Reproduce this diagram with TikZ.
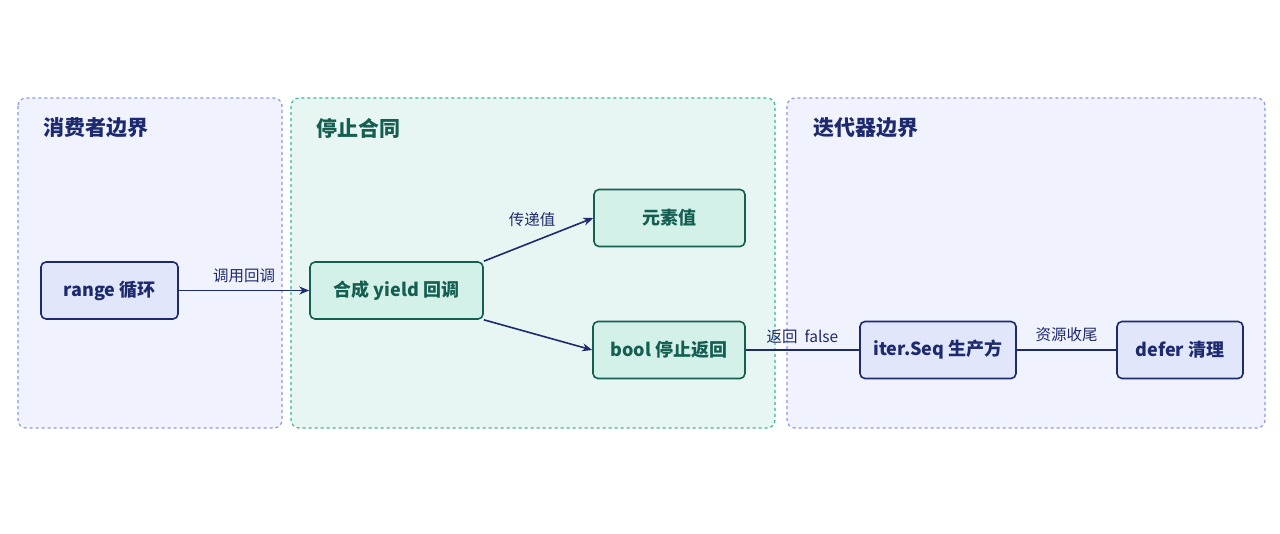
\documentclass[tikz,border=0pt]{standalone}
\usepackage{fontspec}
\setmainfont{Noto Sans CJK SC}
\usetikzlibrary{arrows.meta}
\definecolor{navy}{HTML}{1E2A6E}
\definecolor{teal2}{HTML}{145F52}
\definecolor{bfill}{HTML}{F0F2FD}
\definecolor{bline}{HTML}{8E98E2}
\definecolor{gfill}{HTML}{E7F6F2}
\definecolor{gline}{HTML}{3DB49B}
\definecolor{bnode}{HTML}{E2E6FB}
\definecolor{gnode}{HTML}{D4F1E9}
\begin{document}
\begin{tikzpicture}[x=1pt,y=-1pt,
 grp/.style={draw, dashed, rounded corners=8pt, line width=1.2pt},
 bn/.style={draw=navy, fill=bnode, rounded corners=5pt, line width=1.6pt, text=navy, font=\bfseries\fontsize{18}{20}\selectfont, minimum height=57pt, inner sep=0pt},
 gn/.style={draw=teal2, fill=gnode, rounded corners=5pt, line width=1.6pt, text=teal2, font=\bfseries\fontsize{18}{20}\selectfont, minimum height=57pt, inner sep=0pt},
 ttl/.style={anchor=west, font=\bfseries\fontsize{21}{23}\selectfont},
 lbl/.style={font=\fontsize{15.5}{17}\selectfont, text=navy},
 arr/.style={-{Stealth[length=10pt,width=8pt]}, line width=1.6pt, draw=navy},
 ln/.style={line width=1.6pt, draw=navy}]
\useasboundingbox[fill=white] (0,0) rectangle (1280,533);
\draw[grp, draw=bline, fill=bfill] (18,98) rectangle (282,428);
\draw[grp, draw=gline, fill=gfill] (291,98) rectangle (775,428);
\draw[grp, draw=bline, fill=bfill] (787,98) rectangle (1265,428);
\node[ttl, text=navy] (t1) at (40,128) {消费者边界};
\node[ttl, text=teal2] (t2) at (313,128) {停止合同};
\node[ttl, text=navy] (t3) at (810,128) {迭代器边界};
\node[bn, minimum width=137pt] (range) at (109.5,290.5) {range 循环};
\node[gn, minimum width=173pt] (yield) at (396.5,290.5) {合成 yield 回调};
\node[gn, minimum width=151pt] (elem) at (669.5,218) {元素值};
\node[gn, minimum width=152pt] (bool) at (669,350) {bool 停止返回};
\node[bn, minimum width=156pt] (iter) at (938,350) {iter.Seq 生产方};
\node[bn, minimum width=126pt] (defer) at (1180,350) {defer 清理};
\draw[arr] (range) -- node[lbl, above=4pt] {调用回调} (yield);
\draw[arr] (yield.north east) -- (elem.west);
\node[lbl] (l2) at (532,220) {传递值};
\draw[arr] (yield.south east) -- (bool.west);
\draw[ln] (bool.east) -- node[lbl, above=2pt] {返回\ \ false} (iter.west);
\draw[ln] (iter.east) -- node[lbl, above=4pt] {资源收尾} (defer.west);
\end{tikzpicture}
\end{document}
